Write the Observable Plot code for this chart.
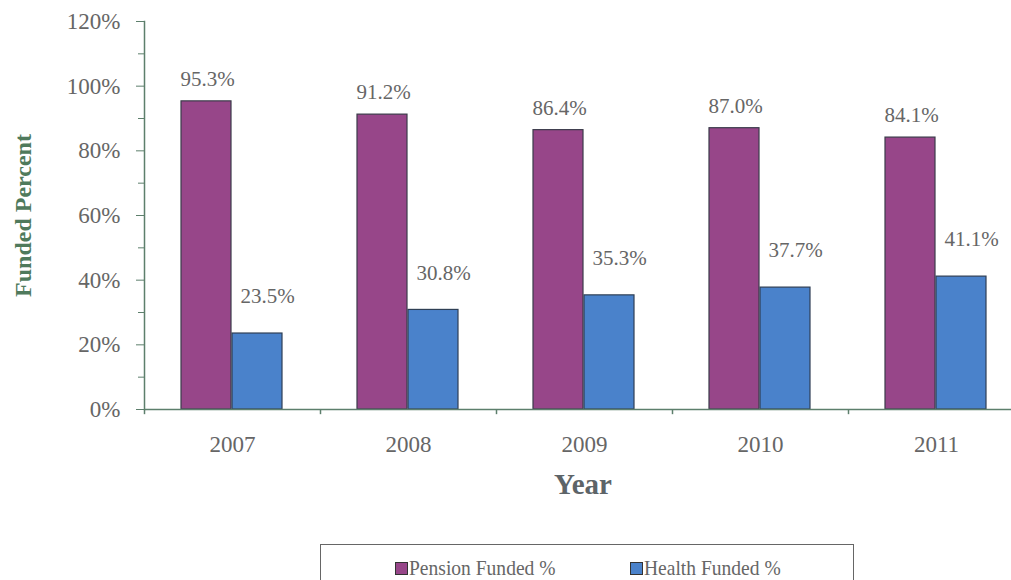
<!DOCTYPE html>
<html><head><meta charset="utf-8">
<script src="https://cdn.jsdelivr.net/npm/d3@7"></script>
<script src="https://cdn.jsdelivr.net/npm/@observablehq/plot@0.6"></script>
<style>
body{margin:0;background:#fff;overflow:hidden;width:1011px;height:580px;}
#legend{position:absolute;left:320px;top:544px;width:532px;height:60px;border:1.5px solid #666;font-family:"Liberation Serif",serif;font-size:21px;color:#666;}
.item{position:absolute;top:11px;display:flex;align-items:center;}
.sw{width:11px;height:11px;border:1px solid #333;margin-right:1px}
.lt{display:inline-block;transform:scaleX(0.93);transform-origin:left center;white-space:nowrap}
svg text{font-family:"Liberation Serif",serif;}
</style></head>
<body>
<div id="chart"></div>
<div id="legend"></div>
<script>
const years = ["2007","2008","2009","2010","2011"];
const pension = [95.3, 91.2, 86.4, 87.0, 84.1];
const health = [23.5, 30.8, 35.3, 37.7, 41.1];
const seriesNames = ["Pension Funded %", "Health Funded %"];
const seriesColors = ["#974689", "#4a82cb"];
const majorTicks = [0,20,40,60,80,100,120];
const minorTicks = [10,30,50,70,90,110];

const pData = years.map((y,i)=>({year:y, value:pension[i]}));
const hData = years.map((y,i)=>({year:y, value:health[i]}));
const axisColor = "#5d7f6c";
const font = "Liberation Serif, serif";

const chart = Plot.plot({
  width: 1011, height: 530,
  marginTop: 21, marginBottom: 121, marginLeft: 144, marginRight: 0,
  style: {fontFamily: font, background: "#fff", overflow: "visible"},
  x: {domain: years, range: [144, 1024], padding: 0},
  y: {domain: [0, 120]},
  marks: [
    Plot.barY(pData, {x: "year", y: "value", fill: seriesColors[0], stroke: "#3b3b4a", strokeWidth: 1.2, insetLeft: 37, insetRight: 89}),
    Plot.barY(hData, {x: "year", y: "value", fill: seriesColors[1], stroke: "#2f3f55", strokeWidth: 1.2, insetLeft: 88, insetRight: 38}),
    Plot.text(pData, {x: "year", y: "value", text: d => d.value.toFixed(1) + "%", dx: -25, dy: -22, fontSize: 21, fontFamily: font, fill: "#666", letterSpacing: "0.5px"}),
    Plot.text(hData, {x: "year", y: "value", text: d => d.value.toFixed(1) + "%", dx: 35, dy: -37, fontSize: 21, fontFamily: font, fill: "#666", letterSpacing: "0.5px"}),
    Plot.ruleY([0], {stroke: axisColor, strokeWidth: 1.5}),
    Plot.frame({anchor: "left", stroke: axisColor, strokeWidth: 1.5}),
    Plot.ruleX(years, {x: d => d, dx: -88, y1: 0, y2: -1.6, stroke: axisColor, strokeWidth: 1.5}),
    Plot.axisY({ticks: majorTicks, tickFormat: d => d + "%", tickSize: 8, tickPadding: 16, fontSize: 23, fontFamily: font, stroke: axisColor, fill: "#666", label: null, style: {letterSpacing: "1px"}}),
    Plot.axisY({ticks: minorTicks, tickFormat: () => "", tickSize: 6, stroke: axisColor, label: null}),
    Plot.axisX({tickSize: 0, tickPadding: 26, fontSize: 23, fontFamily: font, fill: "#666", label: null, style: {letterSpacing: "1px"}}),
    Plot.text(["Funded Percent"], {frameAnchor: "left", textAnchor: "middle", rotate: -90, dx: -121, fontSize: 24, fontFamily: font, fontWeight: "bold", fill: "#4f7a5c", text: d => d}),
    Plot.text(["Year"], {frameAnchor: "bottom", dx: 5, dy: 84, fontSize: 29, fontFamily: font, fontWeight: "bold", fill: "#5d6468", text: d => d, letterSpacing: "1px"})
  ]
});
document.getElementById("chart").appendChild(chart);

const legend = document.getElementById("legend");
const lx = [74, 309];
seriesNames.forEach((n, i) => {
  const it = document.createElement("div");
  it.className = "item";
  it.style.left = lx[i] + "px";
  it.innerHTML = `<span class="sw" style="background:${seriesColors[i]}"></span><span class="lt">${n}</span>`;
  legend.appendChild(it);
});
</script>
</body></html>
